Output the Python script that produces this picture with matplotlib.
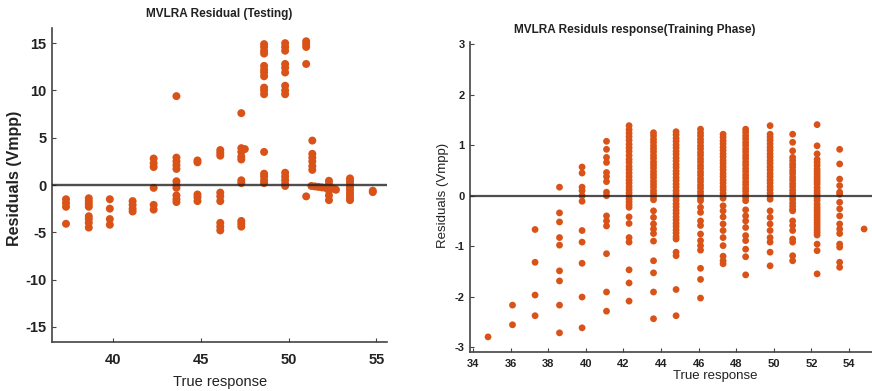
import matplotlib
matplotlib.use("Agg")
import matplotlib.pyplot as plt
import numpy as np

plt.rcParams['font.family'] = ['Liberation Sans', 'DejaVu Sans']
plt.rcParams['axes.unicode_minus'] = False

DOT = '#D95319'

# ---- testing data (left panel), one list per true-response level ----
test_levels = [37.3, 38.6, 39.8, 41.1, 42.3, 43.6, 44.8, 46.1, 47.3, 48.6, 49.8, 51.0, 51.35, 52.3, 53.5, 54.8]
test_res = [
    [-1.5, -1.9, -2.3, -4.1],
    [-1.4, -1.7, -2.0, -2.3, -3.3, -3.6, -4.0, -4.5],
    [-1.5, -2.5, -3.6, -4.2],
    [-1.7, -2.1, -2.5, -2.8],
    [2.8, 2.3, 1.9, -0.3, -2.1, -2.6],
    [9.4, 2.9, 2.5, 2.1, 1.7, 0.4, 0.0, -0.3, -1.1, -1.5, -1.8],
    [2.6, 2.4, -1.0, -1.3, -1.7],
    [3.7, 3.4, 3.1, -0.8, -1.2, -1.7, -4.0, -4.4, -4.8],
    [7.6, 3.9, 3.5, 3.0, 2.7, 0.5, 0.2, -3.8, -4.1, -4.4],
    [14.9, 14.6, 14.2, 13.9, 12.6, 12.2, 11.9, 11.5, 10.3, 10.0, 9.6, 3.5, 1.2, 0.9, 0.5, 0.2],
    [15.0, 14.6, 14.2, 12.8, 12.4, 11.9, 10.5, 10.0, 9.6, 1.3, 0.9, 0.5, 0.1, -0.1],
    [15.2, 14.9, 14.6, 12.8, -1.2],
    [4.7, 3.3, 2.9, 2.5, 2.0, 1.6],
    [0.45, 0.1, -0.25, -0.6, -1.1, -1.6],
    [0.7, 0.4, 0.1, -0.2, -0.5, -0.8, -1.1, -1.4, -1.6],
    [-0.6, -0.75],
]
# loose points that sit off the main levels
test_extra_x = [47.5, 51.3, 51.5, 51.7, 51.9, 52.1, 52.6, 52.7]
test_extra_y = [3.8, -0.1, -0.15, -0.2, -0.25, -0.3, -0.4, -0.5]

# ---- training data (right panel) ----
train_levels = [34.8, 36.1, 37.3, 38.6, 39.8, 41.1, 42.3, 43.6, 44.8, 46.1, 47.3, 48.5, 49.8, 51.0, 52.3, 53.5, 54.8]
train_res = [
    [-2.8],
    [-2.17, -2.56],
    [-0.67, -1.32, -1.97, -2.38],
    [0.17, -0.34, -0.52, -0.83, -0.98, -1.49, -1.69, -2.17, -2.72],
    [0.57, 0.45, 0.17, 0.1, 0.0, -0.11, -0.69, -0.92, -1.34, -2.01, -2.62],
    [1.08, 0.92, 0.76, 0.66, 0.46, 0.38, 0.28, 0.07, 0.0, -0.4, -0.5, -0.6, -1.15, -1.91, -2.29],
    [1.39, 1.31, 1.24, 1.17, 1.10, 1.02, 0.95, 0.88, 0.80, 0.72, 0.66, 0.58, 0.52, 0.45, 0.38, 0.31,
     0.25, 0.18, 0.12, 0.06, 0.0, -0.06, -0.12, -0.18, -0.23, -0.42, -0.55, -0.83, -0.92, -1.47, -1.73, -2.09],
    [1.25, 1.19, 1.12, 1.06, 0.99, 0.93, 0.87, 0.80, 0.74, 0.67, 0.61, 0.55, 0.48, 0.42, 0.36, 0.29,
     0.23, 0.17, 0.10, 0.04, -0.02, -0.08, -0.30, -0.43, -0.56, -0.66, -0.75, -0.90, -1.29, -1.53, -1.91, -2.44],
    [1.27, 1.21, 1.14, 1.08, 1.01, 0.95, 0.88, 0.82, 0.75, 0.69, 0.62, 0.56, 0.49, 0.43, 0.36, 0.30,
     0.23, 0.17, 0.10, 0.04, -0.03, -0.09, -0.16, -0.22, -0.29, -0.35, -0.42, -0.48, -0.55, -0.61,
     -0.68, -0.74, -0.81, -0.86, -1.12, -1.19, -1.86, -2.38],
    [1.32, 1.25, 1.19, 1.12, 1.06, 0.99, 0.93, 0.86, 0.80, 0.73, 0.67, 0.60, 0.54, 0.47, 0.41, 0.34,
     0.28, 0.21, 0.15, 0.08, 0.02, -0.05, -0.10, -0.23, -0.33, -0.50, -0.59, -0.76, -0.89, -0.99,
     -1.08, -1.44, -1.66, -2.03],
    [1.22, 1.16, 1.09, 1.03, 0.96, 0.90, 0.83, 0.77, 0.70, 0.64, 0.57, 0.51, 0.44, 0.38, 0.31, 0.25,
     0.18, 0.12, 0.05, -0.01, -0.05, -0.20, -0.30, -0.42, -0.56, -0.69, -0.83, -0.99, -1.20, -1.29, -1.35],
    [1.32, 1.26, 1.19, 1.13, 1.06, 1.00, 0.93, 0.87, 0.80, 0.74, 0.67, 0.61, 0.54, 0.48, 0.41, 0.35,
     0.28, 0.22, 0.15, 0.09, 0.02, -0.04, -0.10, -0.28, -0.40, -0.50, -0.63, -0.79, -0.89, -1.06, -1.21, -1.57],
    [1.39, 1.22, 1.16, 1.10, 1.03, 0.96, 0.90, 0.83, 0.77, 0.70, 0.64, 0.57, 0.51, 0.44, 0.38, 0.31,
     0.25, 0.18, 0.12, 0.05, -0.01, -0.07, -0.30, -0.43, -0.56, -0.69, -0.83, -0.92, -1.12, -1.39],
    [1.22, 1.06, 0.89, 0.76, 0.70, 0.63, 0.57, 0.50, 0.44, 0.37, 0.31, 0.24, 0.18, 0.11, 0.05, -0.02,
     -0.08, -0.15, -0.21, -0.27, -0.30, -0.50, -0.59, -0.69, -0.86, -0.92, -1.19, -1.29],
    [1.41, 0.99, 0.83, 0.72, 0.66, 0.60, 0.53, 0.48, 0.43, 0.38, 0.33, 0.28, 0.23, 0.16, 0.10, 0.05,
     0.0, -0.05, -0.10, -0.17, -0.23, -0.28, -0.33, -0.38, -0.43, -0.48, -0.53, -0.58, -0.63, -0.68,
     -0.73, -0.78, -0.96, -1.09, -1.55],
    [0.92, 0.63, 0.33, 0.20, 0.07, 0.03, -0.13, -0.26, -0.40, -0.56, -0.66, -0.75, -0.96, -1.02, -1.32, -1.42],
    [-0.66],
]


def flatten(levels, groups):
    xs, ys = [], []
    for lv, g in zip(levels, groups):
        xs += [lv] * len(g)
        ys += g
    return np.array(xs), np.array(ys)


tx, ty = flatten(test_levels, test_res)
tx = np.concatenate([tx, test_extra_x])
ty = np.concatenate([ty, test_extra_y])
rx, ry = flatten(train_levels, train_res)

fig = plt.figure(figsize=(8.72, 3.91), dpi=100)

# left: testing
ax1 = fig.add_axes([0.0596, 0.1253, 0.384, 0.803])
ax1.scatter(tx, ty, s=33, color=DOT, edgecolors='none', zorder=2)
ax1.axhline(0, color='#222222', lw=1.7, alpha=0.8, zorder=3)
ax1.set_xlim(36.5, 55.6)
ax1.set_ylim(-16.6, 16.6)
ax1.set_xticks([40, 45, 50, 55])
ax1.set_yticks([-15, -10, -5, 0, 5, 10, 15])
ax1.tick_params(direction='in', length=3, width=0.8, colors='#444444',
                labelcolor='#222222', labelsize=10.5, pad=8)
ax1.tick_params(axis='y', pad=4)
for lab in ax1.get_xticklabels() + ax1.get_yticklabels():
    lab.set_fontweight('bold')

# right: training
ax2 = fig.add_axes([0.539, 0.0997, 0.461, 0.793])
ax2.scatter(rx, ry, s=24, color=DOT, edgecolors='none', zorder=2)
ax2.axhline(0, color='#222222', lw=1.6, alpha=0.8, zorder=3)
ax2.set_xlim(33.84, 55.22)
ax2.set_ylim(-3.1, 3.05)
ax2.set_xticks(np.arange(34, 56, 2))
ax2.set_yticks([-3, -2, -1, 0, 1, 2, 3])
ax2.tick_params(direction='in', length=3, width=0.8, colors='#444444',
                labelcolor='#222222', labelsize=8, pad=5)
ax2.tick_params(axis='y', pad=4)
for lab in ax2.get_xticklabels() + ax2.get_yticklabels():
    lab.set_fontweight('bold')

for ax in (ax1, ax2):
    ax.spines['top'].set_visible(False)
    ax.spines['right'].set_visible(False)
    for side in ('left', 'bottom'):
        ax.spines[side].set_color('#444444')
        ax.spines[side].set_linewidth(1.2)

W, H = 872, 391
fig.text(219 / W, 1 - 14 / H, 'MVLRA Residual (Testing)', ha='center', va='center',
         fontsize=8.5, fontweight='bold', color='#222222')
fig.text(15 / W, 1 - 178 / H, 'Residuals (Vmpp)', ha='center', va='center', rotation=90,
         fontsize=11.5, fontweight='bold', color='#222222')
fig.text(220 / W, 1 - 382 / H, 'True response', ha='center', va='center',
         fontsize=10.5, color='#222222')

fig.text(635 / W, 1 - 30 / H, 'MVLRA Residuls response(Training Phase)', ha='center', va='center',
         fontsize=8.5, fontweight='bold', color='#222222')
fig.text(443 / W, 1 - 195 / H, 'Residuals (Vmpp)', ha='center', va='center', rotation=90,
         fontsize=9.5, color='#222222')
fig.text(715 / W, 1 - 376 / H, 'True response', ha='center', va='center',
         fontsize=9.5, color='#222222')

fig.savefig('out.png', dpi=100)
